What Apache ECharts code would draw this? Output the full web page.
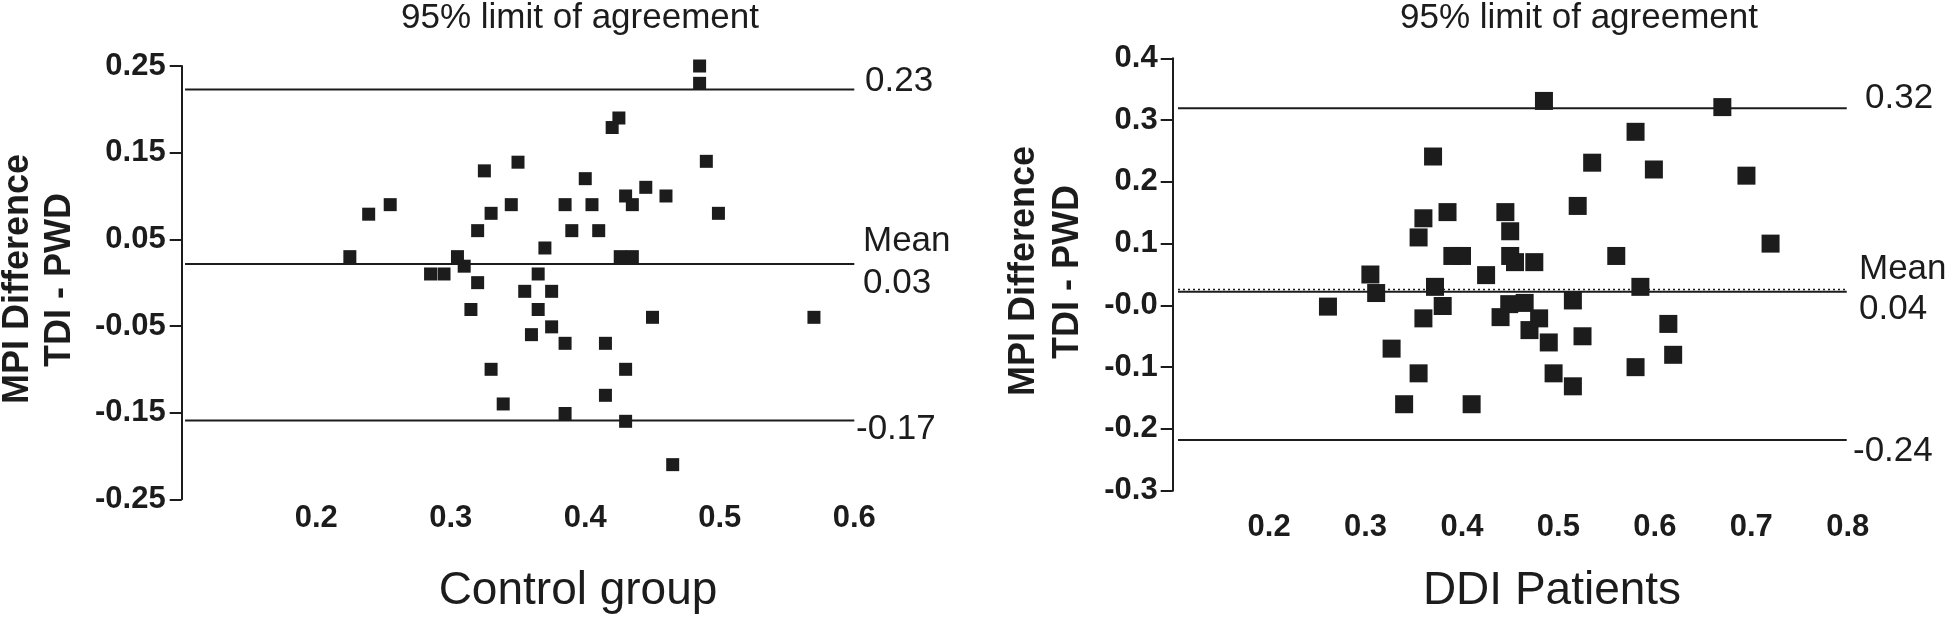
<!DOCTYPE html>
<html><head><meta charset="utf-8">
<script src="https://cdn.jsdelivr.net/npm/echarts@6/dist/echarts.min.js"></script>
<style>html,body{margin:0;padding:0;background:#fff}#c{width:1946px;height:621px}</style>
</head><body><div id="c"></div>
<script>
// ---- Data: Control group (mean MPI, difference TDI - PWD) ----
const controlPoints = [
  [0.225,0.030],[0.239,0.079],[0.255,0.090],[0.285,0.010],[0.295,0.010],
  [0.305,0.030],[0.310,0.019],[0.320,0.000],[0.315,-0.031],[0.325,0.129],
  [0.330,0.080],[0.320,0.060],[0.330,-0.100],[0.339,-0.140],[0.345,0.090],
  [0.485,0.250],[0.485,0.230],[0.425,0.190],[0.420,0.179],[0.350,0.139],
  [0.490,0.140],[0.400,0.120],[0.445,0.110],[0.430,0.100],[0.460,0.100],
  [0.435,0.090],[0.385,0.090],[0.405,0.090],[0.499,0.080],[0.390,0.060],
  [0.410,0.060],[0.370,0.040],[0.426,0.030],[0.435,0.030],[0.365,0.010],
  [0.355,-0.010],[0.375,-0.010],[0.365,-0.031],[0.375,-0.051],[0.360,-0.060],
  [0.385,-0.070],[0.415,-0.070],[0.450,-0.040],[0.430,-0.100],[0.415,-0.130],
  [0.385,-0.151],[0.430,-0.160],[0.465,-0.210],[0.570,-0.040]
];
// ---- Data: DDI patients ----
const ddiPoints = [
  [0.370,0.241],[0.360,0.141],[0.385,0.151],[0.355,0.110],[0.445,0.151],
  [0.450,0.120],[0.390,0.080],[0.400,0.080],[0.450,0.080],[0.455,0.070],
  [0.425,0.049],[0.305,0.050],[0.311,0.020],[0.372,0.030],[0.261,-0.002],
  [0.380,-0.001],[0.360,-0.021],[0.327,-0.070],[0.355,-0.110],[0.340,-0.160],
  [0.410,-0.160],[0.449,0.002],[0.440,-0.019],[0.465,0.004],[0.480,-0.021],
  [0.470,-0.040],[0.490,-0.060],[0.495,-0.110],[0.515,-0.131],[0.525,-0.050],
  [0.515,0.008],[0.580,-0.100],[0.614,-0.030],[0.619,-0.080],[0.485,0.331],
  [0.670,0.321],[0.580,0.281],[0.535,0.231],[0.599,0.220],[0.695,0.210],
  [0.520,0.161],[0.720,0.100],[0.560,0.080],[0.585,0.030],[0.475,0.070]
];
// reference lines: upper limit, mean, lower limit
const controlLimits = [0.223, 0.0216, -0.159];
const ddiLimits = [0.319, 0.022, -0.218];
const ddiMeanDotted = [0.0258];
const controlLineX = [0.1025, 0.6];
const ddiLineX = [0.1055, 0.799];

// ticks
const controlXTicks = [0.2, 0.3, 0.4, 0.5, 0.6];
const controlXTickLabels = ['0.2', '0.3', '0.4', '0.5', '0.6'];
const controlYTicks = [-0.25, -0.15, -0.05, 0.05, 0.15, 0.25];
const controlYTickLabels = ['-0.25', '-0.15', '-0.05', '0.05', '0.15', '0.25'];
const ddiXTicks = [0.2, 0.3, 0.4, 0.5, 0.6, 0.7, 0.8];
const ddiXTickLabels = ['0.2', '0.3', '0.4', '0.5', '0.6', '0.7', '0.8'];
const ddiYTicks = [-0.3, -0.2, -0.1, 0, 0.1, 0.2, 0.3, 0.4];
const ddiYTickLabels = ['-0.3', '-0.2', '-0.1', '-0.0', '0.1', '0.2', '0.3', '0.4'];

// texts
const topTitle = '95% limit of agreement';
const yTitleLines = ['MPI Difference', 'TDI - PWD'];
const xTitles = ['Control group', 'DDI Patients'];
const controlAnnot = ['0.23', 'Mean', '0.03', '-0.17'];
const ddiAnnot = ['0.32', 'Mean', '0.04', '-0.24'];

const FONT = '"Liberation Sans", Arial, Helvetica, sans-serif';
const INK = '#1c1c1c';

function fmt(ticks, labels) {
  return function (v) {
    for (let i = 0; i < ticks.length; i++) if (Math.abs(ticks[i] - v) < 1e-9) return labels[i];
    return '';
  };
}

function xAxisDef(grid, min, max, ticks, labels, margin, size) {
  return {
    type: 'value', gridIndex: grid, min: min, max: max,
    axisLine: { show: false }, axisTick: { show: false }, splitLine: { show: false },
    axisLabel: {
      customValues: ticks, formatter: fmt(ticks, labels), margin: margin,
      color: INK, fontFamily: FONT, fontWeight: 'bold', fontSize: size
    }
  };
}
function yAxisDef(grid, min, max, ticks, labels, margin) {
  return {
    type: 'value', gridIndex: grid, min: min, max: max,
    axisLine: { show: true, lineStyle: { color: INK, width: 2 } },
    axisTick: { show: true, customValues: ticks, length: 12, inside: false, lineStyle: { color: INK, width: 2 } },
    splitLine: { show: false },
    axisLabel: {
      customValues: ticks, formatter: fmt(ticks, labels), margin: margin,
      color: INK, fontFamily: FONT, fontWeight: 'bold', fontSize: 31
    }
  };
}

function limitSeries(idx, xs, vals, style) {
  return vals.map(v => ({
    type: 'line', xAxisIndex: idx, yAxisIndex: idx, silent: true,
    symbol: 'none', animation: false, z: 1,
    data: [[xs[0], v], [xs[1], v]],
    lineStyle: Object.assign({ color: INK, width: 2, type: 'solid', opacity: 1 }, style || {})
  }));
}

function txt(x, y, text, size, opts) {
  opts = opts || {};
  return {
    type: 'text', x: x, y: y, rotation: opts.rotation || 0, silent: true,
    style: {
      text: text, fill: INK, font: (opts.bold ? 'bold ' : '') + size + 'px ' + FONT,
      align: opts.align || 'center', verticalAlign: 'middle'
    }
  };
}

const graphics = [
  txt(580, 18, topTitle, 35),
  txt(1579, 18, topTitle, 35),
  txt(18, 279, yTitleLines[0], 36, { bold: true, rotation: Math.PI / 2 }),
  txt(60, 280, yTitleLines[1], 36, { bold: true, rotation: Math.PI / 2 }),
  txt(1024, 271, yTitleLines[0], 36, { bold: true, rotation: Math.PI / 2 }),
  txt(1068, 272, yTitleLines[1], 36, { bold: true, rotation: Math.PI / 2 }),
  txt(578, 591, xTitles[0], 46),
  txt(1552, 591, xTitles[1], 46),
  txt(865, 81, controlAnnot[0], 35, { align: 'left' }),
  txt(863, 241, controlAnnot[1], 35, { align: 'left' }),
  txt(863, 283, controlAnnot[2], 35, { align: 'left' }),
  txt(856, 429, controlAnnot[3], 35, { align: 'left' }),
  txt(1865, 98, ddiAnnot[0], 35, { align: 'left' }),
  txt(1859, 269, ddiAnnot[1], 35, { align: 'left' }),
  txt(1859, 309, ddiAnnot[2], 35, { align: 'left' }),
  txt(1853, 451, ddiAnnot[3], 35, { align: 'left' })
];

const option = {
  backgroundColor: '#fff',
  animation: false,
  grid: [
    { left: 181.7, top: 66, width: 672.6, height: 433.3, containLabel: false },
    { left: 1172.7, top: 58.3, width: 675, height: 432.4, containLabel: false }
  ],
  xAxis: [
    xAxisDef(0, 0.1, 0.6, controlXTicks, controlXTickLabels, 4, 31),
    xAxisDef(1, 0.1, 0.8, ddiXTicks, ddiXTickLabels, 21, 31)
  ],
  yAxis: [
    yAxisDef(0, -0.25, 0.25, controlYTicks, controlYTickLabels, 16),
    yAxisDef(1, -0.3, 0.4, ddiYTicks, ddiYTickLabels, 15)
  ],
  graphic: graphics,
  series: [].concat(
    limitSeries(0, controlLineX, controlLimits),
    limitSeries(1, ddiLineX, ddiLimits),
    limitSeries(1, ddiLineX, ddiMeanDotted, { width: 1.5, type: [2, 3] }),
    [
      { type: 'scatter', xAxisIndex: 0, yAxisIndex: 0, symbol: 'rect', symbolSize: 13, z: 3,
        itemStyle: { color: INK, opacity: 1 }, data: controlPoints, animation: false },
      { type: 'scatter', xAxisIndex: 1, yAxisIndex: 1, symbol: 'rect', symbolSize: 18, z: 3,
        itemStyle: { color: INK, opacity: 1 }, data: ddiPoints, animation: false }
    ]
  )
};

const chart = echarts.init(document.getElementById('c'), null, { renderer: 'canvas' });
chart.setOption(option);
</script>
</body></html>
